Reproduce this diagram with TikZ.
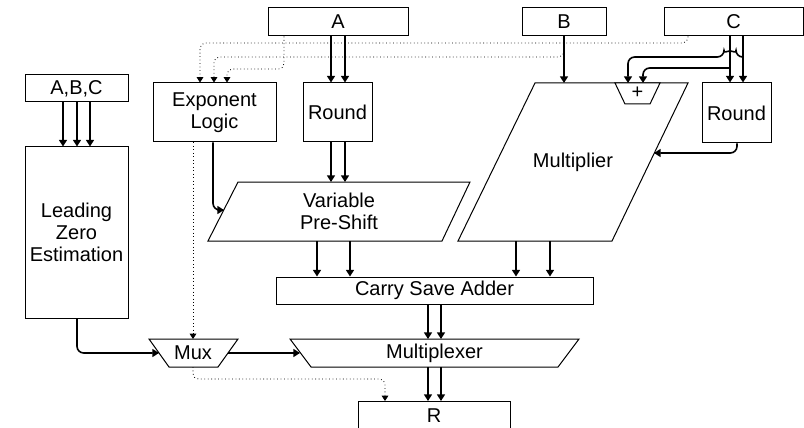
\documentclass[tikz,border=0pt]{standalone}
\usepackage{fontspec}
\setmainfont{Liberation Sans}
\usetikzlibrary{arrows.meta}

\tikzset{every picture/.style={line width=0.75pt}}
\tikzset{
  box/.style={draw, inner sep=0.75pt, align=center, font=\fontsize{15}{16.5}\selectfont},
  lbl/.style={inner sep=0.75pt, align=center, font=\fontsize{15}{16.5}\selectfont},
  flow/.style={line width=1.2pt, -{Triangle[width=6pt,length=5pt]}, rounded corners=5pt},
  side/.style={dotted, line width=0.6pt, -{Triangle[width=5pt,length=4pt]}, rounded corners=4pt},
}

\begin{document}
\begin{tikzpicture}[x=0.75pt,y=0.75pt,yscale=-1,xscale=1]
        \useasboundingbox (0,0) rectangle (804,428);

        % Input boxes
        \node[box, minimum width=105pt, minimum height=21pt] (A) at (338,22) {A};
        \node[box, minimum width=63pt, minimum height=21pt] (B) at (564,22) {B};
        \node[box, minimum width=104.25pt, minimum height=21pt] (C) at (733.5,22) {C};
        \node[box, minimum width=77.25pt, minimum height=20.25pt] (ABC) at (76.5,88.5) {A,B,C};

        % Blocks
        \node[box, minimum width=77.25pt, minimum height=128.25pt] (LZE) at (76.5,232.5) {Leading\\Zero\\Estimation};
        \node[box, minimum width=92.25pt, minimum height=44.25pt] (Exp) at (214.5,112.5) {Exponent\\Logic};
        \node[box, minimum width=51.75pt, minimum height=44.25pt] (RoundA) at (337.5,112.5) {Round};
        \node[box, minimum width=51.75pt, minimum height=45pt] (RoundC) at (736.5,113) {Round};
        \node[box, minimum width=237.75pt, minimum height=20.25pt] (CSA) at (434.5,290.5) {Carry Save Adder};
        \node[box, minimum width=114pt, minimum height=21.75pt, anchor=north] (R) at (434,401) {R};

        %Shape: Parallelogram
        \draw (238,182) -- (470,182) -- (442,241) -- (208,241) -- cycle ;
        \node[lbl] (VPS) at (339,211) {Variable\\Pre-Shift};
        %Shape: Parallelogram
        \draw (535,83) -- (688,83) -- (612,241) -- (458,241) -- cycle ;
        \node[lbl] (Mult) at (573,162) {Multiplier};
        %Shape: Trapezoid
        \draw[fill=white] (615,83) -- (660,83) -- (650,104) -- (625,104) -- cycle ;
        \node[lbl] (Add) at (637.5,93) {+};
        %Shape: Trapezoid
        \draw (149,339) -- (238,339) -- (218,367) -- (169,367) -- cycle ;
        \node[lbl] (Mux) at (193,353) {Mux};
        %Shape: Trapezoid
        \draw (290,339) -- (579,339) -- (558,367) -- (311,367) -- cycle ;
        \node[lbl] (MuxL) at (434.5,353) {Multiplexer};

        % Dotted side paths
        \draw[side] (688,0 |- C.south) -- (688,43) -- (200,43) -- (200,0 |- Exp.north);
        \draw[side] (B.south) -- (564,57) -- (214,57) -- (214,0 |- Exp.north);
        \draw[side] (284,0 |- A.south) -- (284,69) -- (227,69) -- (227,0 |- Exp.north);
        \draw[side] (193,0 |- Exp.south) -- (193,339);
        \draw[side] (193,367) -- (193,379) -- (385,379) -- (385,0 |- R.north);

        % Solid data paths
        \foreach \x in {331,345} {
          \draw[flow] (\x,0 |- A.south) -- (\x,0 |- RoundA.north);
          \draw[flow] (\x,0 |- RoundA.south) -- (\x,182);
        }
        \foreach \x in {63,77,90}
          \draw[flow] (\x,0 |- ABC.south) -- (\x,0 |- LZE.north);
        \foreach \x in {317,350}
          \draw[flow] (\x,241) -- (\x,0 |- CSA.north);
        \foreach \x in {516,550}
          \draw[flow] (\x,241) -- (\x,0 |- CSA.north);
        \foreach \x in {428,441} {
          \draw[flow] (\x,0 |- CSA.south) -- (\x,339);
          \draw[flow] (\x,367) -- (\x,0 |- R.north);
        }
        \foreach \x in {730,743}
          \draw[flow] (\x,0 |- C.south) -- (\x,0 |- RoundC.north);
        \draw[flow] (B.south) -- (564,83);
        \draw[flow] (213,0 |- Exp.south) -- (213,210) -- (224,210);
        \draw[flow] (77,0 |- LZE.south) -- (77,353) -- (159,353);
        \draw[flow] (228,353) -- (300,353);
        \draw[flow] (737,0 |- RoundC.south) -- (737,153) -- (654,153);
        %line hop over the C wire
        \draw[flow] (743,57) -- (736,57) arc[start angle=0, end angle=-180, radius=4.5pt] -- (628,57) -- (628,83);
        \draw[flow] (730,68) -- (643,68) -- (643,83);

\end{tikzpicture}
\end{document}
